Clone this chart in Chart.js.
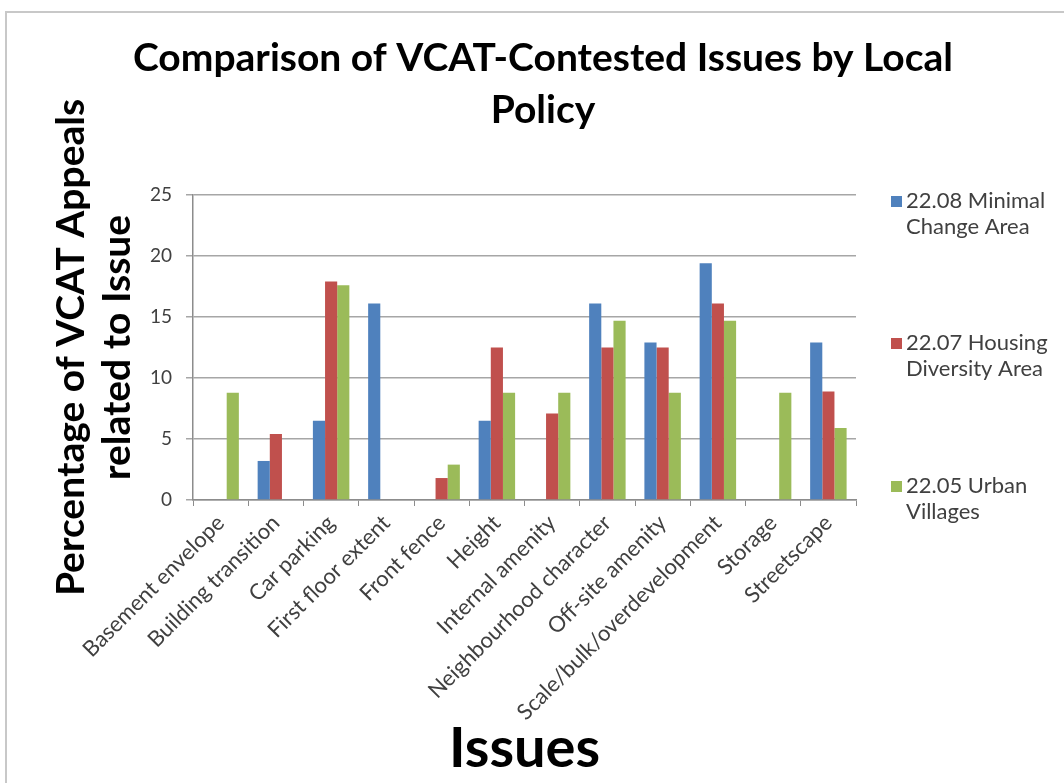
<!DOCTYPE html>
<html>
<head>
<meta charset="utf-8">
<script src="https://cdn.jsdelivr.net/npm/chart.js@4/dist/chart.umd.min.js"></script>
<style>
  html, body { margin: 0; padding: 0; background: #fff; }
  #wrap { position: relative; width: 1064px; height: 783px; overflow: hidden; }
  #frame { position: absolute; left: 5px; top: 11px; width: 1100px; height: 800px; border: 2px solid #c8c8c8; box-sizing: border-box; }
  canvas { position: absolute; left: 0; top: 0; }
</style>
</head>
<body>
<div id="wrap">
  <div id="frame"></div>
  <canvas id="myChart" width="1064" height="783"></canvas>
</div>
<script>
// --------------------
// Data
// --------------------
const issues = [
  "Basement envelope", "Building transition", "Car parking", "First floor extent",
  "Front fence", "Height", "Internal amenity", "Neighbourhood character",
  "Off-site amenity", "Scale/bulk/overdevelopment", "Storage", "Streetscape"
];

const minimalChange = [0, 3.2, 6.5, 16.1, 0, 6.5, 0, 16.1, 12.9, 19.4, 0, 12.9];
const housingDiversity = [0, 5.4, 17.9, 0, 1.8, 12.5, 7.1, 12.5, 12.5, 16.1, 0, 8.9];
const urbanVillages = [8.8, 0, 17.6, 0, 2.9, 8.8, 8.8, 14.7, 8.8, 14.7, 8.8, 5.9];

const seriesNames = [
  ["22.08 Minimal", "Change Area"],
  ["22.07 Housing", "Diversity Area"],
  ["22.05 Urban", "Villages"]
];

const chartTitle = ["Comparison of VCAT-Contested Issues by Local", "Policy"];

const yTicks = [0, 5, 10, 15, 20, 25];

// Office 2007 colours
const colors = ["#4F81BD", "#C0504D", "#9BBB59"];

const FONT = "Lato, 'Open Sans', sans-serif";

// --------------------
// Title centred on the whole picture (not just the plot)
// --------------------
const bigTitle = {
  id: "bigTitle",
  afterDraw(chart) {
    const ctx = chart.ctx;
    ctx.save();
    ctx.font = "bold 39px " + FONT;
    ctx.fillStyle = "#000";
    ctx.textAlign = "center";
    ctx.textBaseline = "middle";
    chartTitle.forEach((line, i) => ctx.fillText(line, 543, 58 + i * 52));
    ctx.restore();
  }
};

// --------------------
// Legend drawn on the right, wrapped like the original
// --------------------
const sideLegend = {
  id: "sideLegend",
  afterDraw(chart) {
    const ctx = chart.ctx;
    const x = 891;
    const rows = [201, 343, 486];
    ctx.save();
    ctx.font = "22px " + FONT;
    ctx.textBaseline = "middle";
    chart.data.datasets.forEach((ds, i) => {
      const y = rows[i];
      ctx.fillStyle = ds.backgroundColor;
      ctx.fillRect(x, y - 5, 11, 11);
      ctx.fillStyle = "#404040";
      ds.legendLines.forEach((line, j) => {
        ctx.fillText(line, x + 15, y + j * 26);
      });
    });
    ctx.restore();
  }
};

const datasets = [minimalChange, housingDiversity, urbanVillages].map((vals, i) => ({
  label: seriesNames[i].join(" "),
  legendLines: seriesNames[i],
  data: vals,
  backgroundColor: colors[i],
  borderWidth: 0,
  barPercentage: 1,
  categoryPercentage: 0.66
}));

const ctx = document.getElementById("myChart").getContext("2d");

new Chart(ctx, {
  type: "bar",
  data: { labels: issues, datasets: datasets },
  plugins: [bigTitle, sideLegend],
  options: {
    responsive: false,
    animation: false,
    layout: { padding: { left: 10, right: 208, top: 195, bottom: 6 } },
    plugins: {
      legend: { display: false },
      tooltip: { enabled: false },
      title: { display: false }
    },
    scales: {
      x: {
        afterFit: (s) => { s.height = 277; },
        grid: { display: true, offset: true, drawOnChartArea: false, tickLength: 6, color: "#8c8c8c" },
        border: { color: "#8c8c8c", width: 1.5 },
        ticks: {
          minRotation: 45, maxRotation: 45, autoSkip: false,
          color: "#404040", font: { family: FONT, size: 22 }, padding: 4
        },
        title: {
          display: true, text: "Issues", color: "#000",
          font: { family: FONT, size: 56, weight: "bold", lineHeight: 1.0 },
          padding: { top: 0, bottom: 0 }
        }
      },
      y: {
        min: 0, max: 25,
        afterFit: (s) => { s.width = 183; },
        afterBuildTicks: (s) => { s.ticks = yTicks.map(v => ({ value: v })); },
        grid: { color: "#a6a6a6", tickLength: 7, lineWidth: 1.5 },
        border: { color: "#8c8c8c", width: 1.5 },
        ticks: { color: "#404040", font: { family: FONT, size: 19 }, padding: 14 },
        title: {
          display: true, text: ["Percentage of VCAT Appeals", "related to Issue"], color: "#000",
          font: { family: FONT, size: 39, weight: "bold", lineHeight: 1.18 },
          padding: { top: 38, bottom: 0 }
        }
      }
    }
  }
});
</script>
</body>
</html>
